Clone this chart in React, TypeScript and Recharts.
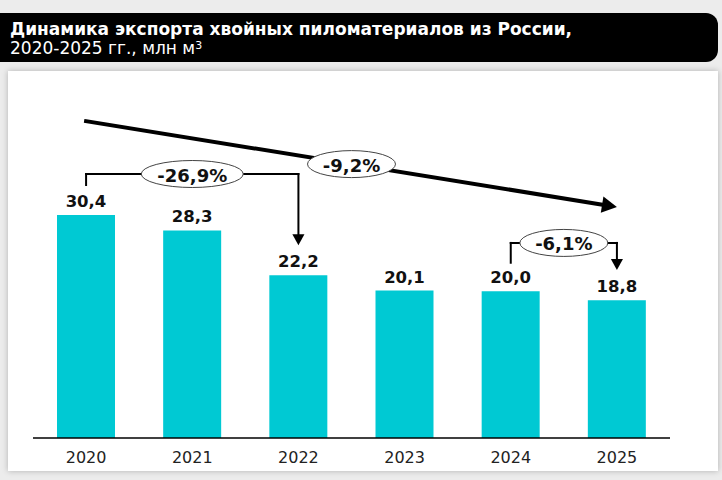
import React from "react";
import {
  BarChart,
  Bar,
  XAxis,
  YAxis,
  LabelList,
  ReferenceLine,
} from "recharts";

const years = ["2020", "2021", "2022", "2023", "2024", "2025"];
const volumes = [30.4, 28.3, 22.2, 20.1, 20.0, 18.8];

// annotation levels, in the chart's own units (млн м3)
const trendLevels = [43.2, 31.5];
const bracketOneLevels = [34.5, 36.0, 26.3];
const bracketTwoLevels = [23.9, 26.6, 22.9];
const changeLabels = ["-9,2%", "-26,9%", "-6,1%"];

const data = years.map((year, i) => ({ year, volume: volumes[i] }));

const fmt = (v: any) => Number(v).toFixed(1).replace(".", ",");

const FONT = "'DejaVu Sans', Verdana, sans-serif";

function makeShape(opts: { width: number; arrow?: boolean; head?: number; label?: string }) {
  return (props: any) => {
    const { x1, y1, x2, y2 } = props;
    const head = opts.head ?? 10;
    const dx = x2 - x1;
    const dy = y2 - y1;
    const len = Math.sqrt(dx * dx + dy * dy) || 1;
    const ux = dx / len;
    const uy = dy / len;
    const bx = x2 - ux * head;
    const by = y2 - uy * head;
    const hw = head * 0.55;
    const mx = (x1 + x2) / 2;
    const my = (y1 + y2) / 2;
    const rx = opts.label ? opts.label.length * 7 + 9 : 0;
    return (
      <g>
        <line
          x1={x1}
          y1={y1}
          x2={opts.arrow ? bx : x2}
          y2={opts.arrow ? by : y2}
          stroke="#000"
          strokeWidth={opts.width}
          strokeLinecap="square"
        />
        {opts.arrow && (
          <polygon
            points={`${x2},${y2} ${bx - uy * hw},${by + ux * hw} ${bx + uy * hw},${by - ux * hw}`}
            fill="#000"
          />
        )}
        {opts.label && (
          <g>
            <ellipse cx={mx} cy={my} rx={rx} ry={13.5} fill="#fff" stroke="#444" strokeWidth={1} />
            <text
              x={mx}
              y={my + 1}
              textAnchor="middle"
              dominantBaseline="central"
              fontFamily={FONT}
              fontWeight="bold"
              fontSize={18}
              fill="#111"
            >
              {opts.label}
            </text>
          </g>
        )}
      </g>
    );
  };
}

export default function App() {
  return (
    <div
      style={{
        position: "absolute",
        left: 0,
        top: 0,
        width: 722,
        height: 480,
        background: "#ececec",
        overflow: "hidden",
        fontFamily: FONT,
      }}
    >
      <div
        style={{
          position: "absolute",
          left: 0,
          top: 13,
          width: 718,
          height: 49,
          background: "#000",
          borderRadius: "0 12px 12px 0",
          color: "#fff",
          paddingLeft: 10,
          paddingTop: 6,
          boxSizing: "border-box",
        }}
      >
        <div style={{ fontWeight: "bold", fontSize: 17, lineHeight: "20px" }}>
          Динамика экспорта хвойных пиломатериалов из России,
        </div>
        <div style={{ fontSize: 17, lineHeight: "19px" }}>
          2020-2025 гг., млн м
          <span style={{ fontSize: 11, position: "relative", top: -5 }}>3</span>
        </div>
      </div>
      <div
        style={{
          position: "absolute",
          left: 8,
          top: 71,
          width: 710,
          height: 400,
          background: "#fff",
          boxShadow: "0 0 6px rgba(0,0,0,0.25)",
        }}
      />
      <div style={{ position: "absolute", left: 0, top: 0 }}>
        <BarChart
          width={722}
          height={480}
          data={data}
          margin={{ top: 86, right: 52, left: 33, bottom: 0 }}
          barSize={58}
        >
          <XAxis
            dataKey="year"
            height={42}
            axisLine={{ stroke: "#000", strokeWidth: 1.5 }}
            tickLine={false}
            tickMargin={8}
            tick={{ fill: "#222", fontSize: 16, fontFamily: FONT }}
          />
          <YAxis hide domain={[0, 48]} />
          <Bar dataKey="volume" fill="#00C9D3" isAnimationActive={false}>
            <LabelList
              dataKey="volume"
              position="top"
              offset={8}
              formatter={fmt}
              style={{ fill: "#111", fontSize: 16.5, fontWeight: "bold", fontFamily: FONT }}
            />
          </Bar>
          {/* overall trend 2020 -> 2025 */}
          <ReferenceLine
            segment={[
              { x: years[0], y: trendLevels[0] },
              { x: years[5], y: trendLevels[1] },
            ]}
            ifOverflow="visible"
            shape={makeShape({ width: 4, arrow: true, head: 15, label: changeLabels[0] })}
          />
          {/* 2020 -> 2022 */}
          <ReferenceLine
            segment={[
              { x: years[0], y: bracketOneLevels[0] },
              { x: years[0], y: bracketOneLevels[1] },
            ]}
            ifOverflow="visible"
            shape={makeShape({ width: 2 })}
          />
          <ReferenceLine
            segment={[
              { x: years[0], y: bracketOneLevels[1] },
              { x: years[2], y: bracketOneLevels[1] },
            ]}
            ifOverflow="visible"
            shape={makeShape({ width: 2, label: changeLabels[1] })}
          />
          <ReferenceLine
            segment={[
              { x: years[2], y: bracketOneLevels[1] },
              { x: years[2], y: bracketOneLevels[2] },
            ]}
            ifOverflow="visible"
            shape={makeShape({ width: 2, arrow: true, head: 11 })}
          />
          {/* 2024 -> 2025 */}
          <ReferenceLine
            segment={[
              { x: years[4], y: bracketTwoLevels[0] },
              { x: years[4], y: bracketTwoLevels[1] },
            ]}
            ifOverflow="visible"
            shape={makeShape({ width: 2 })}
          />
          <ReferenceLine
            segment={[
              { x: years[4], y: bracketTwoLevels[1] },
              { x: years[5], y: bracketTwoLevels[1] },
            ]}
            ifOverflow="visible"
            shape={makeShape({ width: 2, label: changeLabels[2] })}
          />
          <ReferenceLine
            segment={[
              { x: years[5], y: bracketTwoLevels[1] },
              { x: years[5], y: bracketTwoLevels[2] },
            ]}
            ifOverflow="visible"
            shape={makeShape({ width: 2, arrow: true, head: 11 })}
          />
        </BarChart>
      </div>
    </div>
  );
}
